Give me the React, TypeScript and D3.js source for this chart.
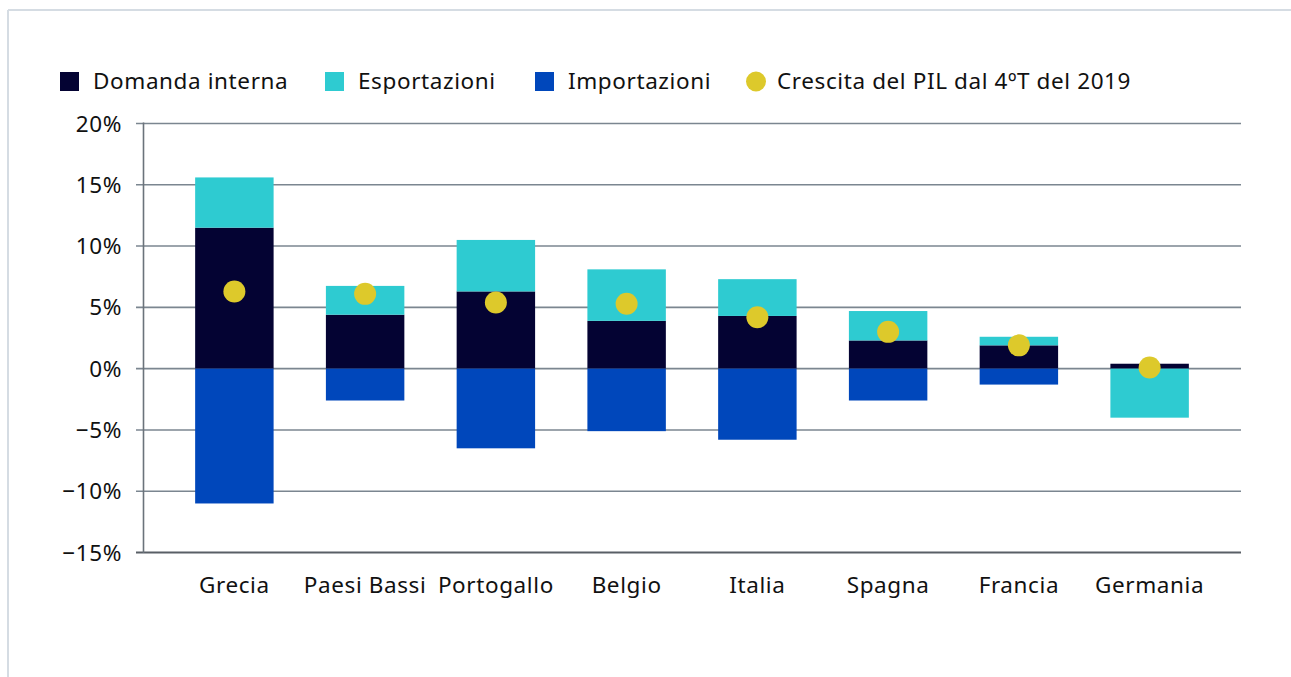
import React from "react";
import * as d3 from "d3";

const categories = ["Grecia", "Paesi Bassi", "Portogallo", "Belgio", "Italia", "Spagna", "Francia", "Germania"];
const domandaInterna = [11.5, 4.4, 6.3, 3.9, 4.3, 2.3, 1.9, 0.4];
const esportazioni = [4.1, 2.35, 4.2, 4.2, 3.0, 2.4, 0.7, -4.0];
const importazioni = [-11.0, -2.6, -6.5, -5.1, -5.8, -2.6, -1.3, 0];
const crescitaPil = [6.3, 6.1, 5.4, 5.3, 4.2, 3.0, 1.9, 0.1];
const yTicks = [-15, -10, -5, 0, 5, 10, 15, 20];

const seriesKeys = ["domanda", "esportazioni", "importazioni"];
const seriesLabels = ["Domanda interna", "Esportazioni", "Importazioni"];
const colors: Record<string, string> = {
  domanda: "#040333",
  esportazioni: "#2ecbd1",
  importazioni: "#0047bb",
};
const dotColor = "#ddc92b";
const FONT = "'Noto Sans', 'Open Sans', sans-serif";
const FS = 22.5;
const LS = 0.6;

export default function App() {
  const W = 1291;
  const H = 677;
  const x = d3.scaleBand<string>().domain(categories).range([169, 1215]).paddingInner(0.4).paddingOuter(0.2);
  const y = d3.scaleLinear().domain([-15, 20]).range([552.5, 123.5]);

  const rows = categories.map((c, i) => ({
    cat: c,
    domanda: domandaInterna[i],
    esportazioni: esportazioni[i],
    importazioni: importazioni[i],
  }));
  const stacked = d3
    .stack<any>()
    .keys(seriesKeys)
    .offset(d3.stackOffsetDiverging)(rows);

  const axisX = 143.5;
  const gridRight = 1241;
  const fmt = (v: number) => (v < 0 ? "\u2212" + Math.abs(v) : String(v)) + "%";

  const legendItems = [
    { label: seriesLabels[0], color: colors.domanda, sx: 60, tx: 93, shape: "rect" },
    { label: seriesLabels[1], color: colors.esportazioni, sx: 325, tx: 358, shape: "rect" },
    { label: seriesLabels[2], color: colors.importazioni, sx: 535, tx: 568, shape: "rect" },
    { label: "Crescita del PIL dal 4\u00baT del 2019", color: dotColor, sx: 746, tx: 777, shape: "circle" },
  ];

  return (
    <svg width={W} height={H} style={{ position: "absolute", left: 0, top: 0, background: "#fff" }}>
      <rect x={0} y={0} width={W} height={H} fill="#fff" />
      {/* frame */}
      <line x1={8} y1={10} x2={W} y2={10} stroke="#d5dce3" strokeWidth={2} />
      <line x1={8} y1={10} x2={8} y2={H} stroke="#d5dce3" strokeWidth={2} />

      {/* legend */}
      {legendItems.map((it) => (
        <g key={it.label}>
          {it.shape === "rect" ? (
            <rect x={it.sx} y={72} width={19} height={19} fill={it.color} />
          ) : (
            <circle cx={it.sx + 10} cy={81.5} r={10} fill={it.color} />
          )}
          <text x={it.tx} y={89} fontFamily={FONT} fontSize={FS} letterSpacing={LS} fill="#111">
            {it.label}
          </text>
        </g>
      ))}

      {/* gridlines */}
      {yTicks.map((t) => (
        <g key={t}>
          <line
            x1={136}
            x2={gridRight}
            y1={y(t)}
            y2={y(t)}
            stroke={t === -15 ? "#595f66" : "#7b8690"}
            strokeWidth={t === -15 ? 2 : 1.6}
          />
          <text x={122} y={y(t) + 8} textAnchor="end" fontFamily={FONT} fontSize={FS} letterSpacing={LS} fill="#111">
            {fmt(t)}
          </text>
        </g>
      ))}
      <line x1={axisX} x2={axisX} y1={122.5} y2={553} stroke="#6b737b" strokeWidth={1.6} />

      {/* bars */}
      {stacked.map((s) => (
        <g key={s.key}>
          {s.map((d, i) =>
            d[1] - d[0] === 0 ? null : (
              <rect
                key={i}
                x={x(categories[i])}
                width={x.bandwidth()}
                y={y(d[1])}
                height={y(d[0]) - y(d[1])}
                fill={colors[s.key]}
              />
            )
          )}
        </g>
      ))}

      {/* dots */}
      {crescitaPil.map((v, i) => (
        <circle key={i} cx={(x(categories[i]) as number) + x.bandwidth() / 2} cy={y(v)} r={11} fill={dotColor} />
      ))}

      {/* x labels */}
      {categories.map((c) => (
        <text
          key={c}
          x={(x(c) as number) + x.bandwidth() / 2}
          y={593}
          textAnchor="middle"
          fontFamily={FONT}
          fontSize={FS}
          letterSpacing={LS}
          fill="#111"
        >
          {c}
        </text>
      ))}
    </svg>
  );
}
